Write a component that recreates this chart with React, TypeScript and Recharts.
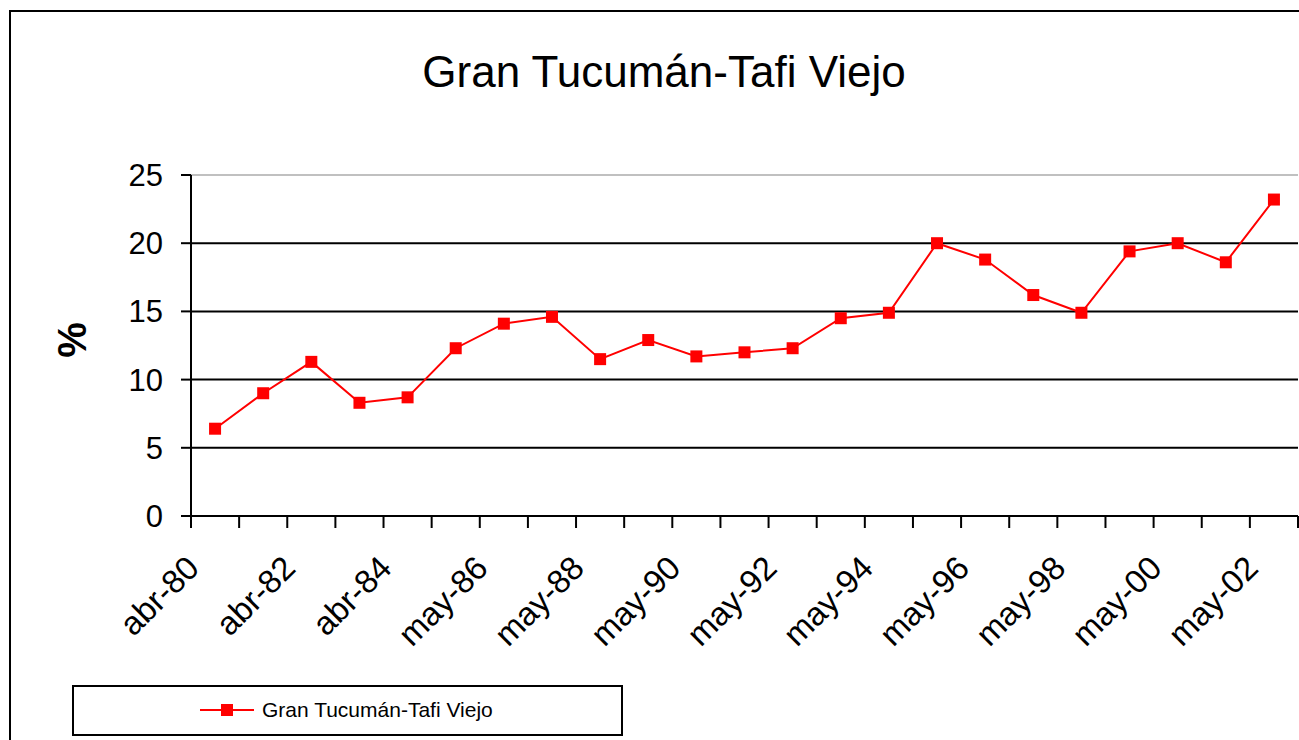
import { Line, LineChart, ReferenceLine, XAxis, YAxis } from 'recharts'

const CATEGORIES = [
	'abr-80', 'abr-81', 'abr-82', 'abr-83', 'abr-84', 'may-85', 'may-86', 'may-87',
	'may-88', 'may-89', 'may-90', 'may-91', 'may-92', 'may-93', 'may-94', 'may-95',
	'may-96', 'may-97', 'may-98', 'may-99', 'may-00', 'may-01', 'may-02',
]
const VALUES = [
	6.4, 9.0, 11.3, 8.3, 8.7, 12.3, 14.1, 14.6, 11.5, 12.9, 11.7, 12.0,
	12.3, 14.5, 14.9, 20.0, 18.8, 16.2, 14.9, 19.4, 20.0, 18.6, 23.2,
]
const Y_TICKS = [0, 5, 10, 15, 20, 25]
const GRID_LINES = [5, 10, 15, 20]
const SERIES_NAME = 'Gran Tucumán-Tafi Viejo'
const TITLE = 'Gran Tucumán-Tafi Viejo'

const data = CATEGORIES.map((name, i) => ({ idx: i, name, value: VALUES[i] }))
// tick marks sit between categories, like the original spreadsheet chart
const boundaries = CATEGORIES.map((_, i) => i - 0.5).concat(CATEGORIES.length - 0.5)

const FONT = '"Liberation Sans", Arial, sans-serif'
const PLOT_LEFT = 191
const PLOT_RIGHT = 1298
const STEP = (PLOT_RIGHT - PLOT_LEFT) / CATEGORIES.length

const CategoryTick = (props: any) => {
	const { x, y, payload } = props
	const i = payload.value + 0.5
	if (i % 2 !== 0 || i >= CATEGORIES.length) return <g />
	return (
		<text
			x={0}
			y={0}
			transform={`translate(${x + STEP / 2 - 14},${y + 40}) rotate(-45)`}
			textAnchor='end'
			fontSize={33}
			fontFamily={FONT}
			fill='#000'
		>
			{CATEGORIES[i]}
		</text>
	)
}

const SquareDot = (props: any) => {
	const { cx, cy, index } = props
	if (cx == null || cy == null) return <g key={index} />
	return <rect key={index} x={cx - 6} y={cy - 6} width={12} height={12} fill='#ff0000' />
}

const App = () => {
	return (
		<div
			style={{
				position: 'absolute',
				left: 0,
				top: 0,
				width: 1299,
				height: 740,
				overflow: 'hidden',
				background: '#fff',
				fontFamily: FONT,
			}}
		>
			<div
				style={{
					position: 'absolute',
					left: 9,
					top: 10,
					width: 1400,
					height: 800,
					border: '2px solid #000',
				}}
			/>
			<svg width={1299} height={740} style={{ position: 'absolute', left: 0, top: 0 }}>
				<text x={664} y={87} textAnchor='middle' fontSize={44} fontFamily={FONT} fill='#000'>
					{TITLE}
				</text>
				<text
					x={0}
					y={0}
					transform='translate(86,340) rotate(-90)'
					textAnchor='middle'
					fontSize={40}
					fontWeight='bold'
					fontFamily={FONT}
					fill='#000'
				>
					%
				</text>
			</svg>
			<div style={{ position: 'absolute', left: 0, top: 0 }}>
				<LineChart width={1310} height={740} data={data} margin={{ top: 175, right: 12, left: 131, bottom: 124 }}>
					<XAxis
						dataKey='idx'
						type='number'
						domain={[-0.5, CATEGORIES.length - 0.5]}
						ticks={boundaries}
						interval={0}
						height={100}
						tickSize={12}
						tickMargin={2}
						axisLine={{ stroke: '#000', strokeWidth: 2 }}
						tickLine={{ stroke: '#000', strokeWidth: 2 }}
						tick={<CategoryTick />}
					/>
					<YAxis
						width={60}
						domain={[0, 25]}
						ticks={Y_TICKS}
						interval={0}
						tickSize={10}
						tickMargin={18}
						axisLine={{ stroke: '#000', strokeWidth: 2 }}
						tickLine={{ stroke: '#000', strokeWidth: 2 }}
						tick={{ fill: '#000', fontSize: 31, fontFamily: FONT }}
					/>
					<ReferenceLine y={25} stroke='#c0c0c0' strokeWidth={2} />
					{GRID_LINES.map((v) => (
						<ReferenceLine key={v} y={v} stroke='#000' strokeWidth={2} />
					))}
					<Line
						dataKey='value'
						name={SERIES_NAME}
						stroke='#ff0000'
						strokeWidth={2}
						dot={<SquareDot />}
						activeDot={false}
						isAnimationActive={false}
					/>
				</LineChart>
			</div>
			<div
				style={{
					position: 'absolute',
					left: 72,
					top: 685,
					width: 551,
					height: 51,
					border: '2px solid #000',
					boxSizing: 'border-box',
				}}
			>
				<svg width={547} height={47} style={{ position: 'absolute', left: 0, top: 0 }}>
					<line x1={126} x2={180} y1={23} y2={23} stroke='#ff0000' strokeWidth={2} />
					<rect x={147} y={17} width={12} height={12} fill='#ff0000' />
					<text x={188} y={30} fontSize={21} fontFamily={FONT} fill='#000'>
						{SERIES_NAME}
					</text>
				</svg>
			</div>
		</div>
	)
}

export default App
